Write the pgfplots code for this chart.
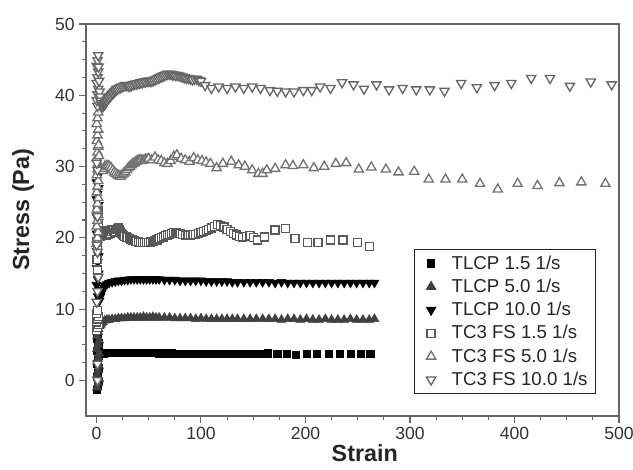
\documentclass[border=0pt]{standalone}
\usepackage{fontspec}
\setmainfont{Liberation Sans}
\usepackage{pgfplots}
\usepackage{pgfplotstable}
\pgfplotsset{compat=1.18}

% TLCP 1.5 1/s
\pgfplotstableread{
x y
0.0 -1.3
1.2 -0.7
2.2 -0.1
0.0 0.5
1.2 1.1
2.2 1.7
0.0 2.3
1.2 2.9
2.2 3.5
0.0 4.1
1.2 4.7
2.2 5.3
0.0 5.9
1.2 6.5
1.5 5.0
2 4.2
3 3.9
4 3.8
5 3.8
6 3.8
7 3.8
8 3.9
10 3.9
12 3.9
14 3.9
16 3.9
18 3.9
20 3.9
23 3.9
26 3.9
29 3.9
32 3.9
35 3.9
38 3.9
41 3.9
44 3.9
47 3.9
50 3.9
53 3.9
56 3.9
60 3.8
64 3.8
68 3.8
72 3.8
76 3.7
80 3.7
84 3.7
88 3.7
92 3.7
96 3.7
100 3.7
104 3.7
108 3.7
112 3.7
116 3.7
120 3.7
124 3.7
128 3.7
132 3.7
136 3.7
140 3.7
144 3.7
148 3.7
152 3.7
156 3.7
164 3.8
173 3.7
182 3.7
191 3.6
201 3.7
211 3.7
222 3.7
233 3.7
243 3.7
253 3.7
262 3.7
}\tlcpA

% TLCP 5.0 1/s
\pgfplotstableread{
x y
0.5 -1.0
1.6 -0.4
2.6 0.2
0.5 0.8
1.6 1.4
2.6 2.0
0.5 2.6
1.6 3.2
2.6 3.8
0.5 4.4
1.6 5.0
2.6 5.6
0.5 6.2
1.6 6.8
2 7.2
3 7.6
4 7.8
5 8.0
6 8.2
8 8.4
10 8.5
12 8.5
15 8.6
18 8.6
21 8.7
24 8.7
27 8.7
30 8.8
33 8.8
36 8.8
39 8.8
42 8.8
45 8.9
48 8.8
51 8.8
54 8.9
57 8.8
60 8.8
65 8.8
70 8.8
75 8.7
80 8.7
85 8.7
90 8.7
95 8.6
100 8.7
105 8.6
110 8.6
115 8.6
120 8.6
125 8.6
130 8.6
135 8.6
141 8.6
147 8.6
153 8.6
159 8.6
165 8.6
171 8.6
177 8.5
183 8.6
189 8.6
195 8.5
201 8.6
207 8.5
213 8.5
219 8.6
225 8.5
231 8.5
237 8.5
243 8.6
249 8.5
255 8.5
261 8.5
266 8.6
}\tlcpB

% TLCP 10.0 1/s
\pgfplotstableread{
x y
0.0 11.0
1.2 11.8
2.2 12.6
0.0 13.4
1.2 14.2
2.2 15.0
0.0 15.8
1.2 16.6
2.2 17.4
0.0 18.2
1.2 19.0
2.2 19.8
0.0 20.6
1.2 21.4
2.2 22.2
0.0 23.0
1.2 23.8
2.2 24.6
0.0 25.4
1.2 26.2
2.2 27.0
0.0 27.8
1.2 28.6
3 11.2
4 11.8
5 12.3
6 12.7
7 13.0
8 13.3
10 13.5
12 13.7
15 13.8
18 13.9
21 14.0
24 14.0
27 14.1
30 14.1
33 14.2
36 14.2
39 14.2
42 14.2
45 14.2
48 14.2
51 14.2
54 14.2
57 14.2
60 14.2
65 14.1
70 14.1
75 14.1
80 14.0
85 14.0
90 14.0
95 14.0
100 14.0
105 13.9
110 13.9
115 13.9
120 13.9
125 13.9
130 13.8
135 13.8
141 13.8
147 13.8
153 13.8
159 13.8
165 13.8
171 13.7
177 13.8
183 13.7
189 13.7
195 13.7
201 13.7
207 13.7
213 13.7
219 13.7
225 13.7
231 13.7
237 13.7
243 13.7
249 13.7
255 13.7
261 13.7
266 13.7
}\tlcpC

% TC3 FS 1.5 1/s
\pgfplotstableread{
x y
0.3 7.0
1.0 7.4
1.7 7.8
0.3 8.2
1.0 8.6
1.7 9.0
0.3 9.4
1.0 9.8
1.0 15.5
0.5 17.0
1.2 18.5
0.5 19.5
1.5 23.6
2 22.0
2.5 21.0
3 20.5
3.5 20.3
4 20.2
4.5 20.3
5 20.4
5.5 20.6
6 20.8
6.5 20.5
7 20.3
7.5 20.4
8 20.6
8.5 20.5
9 20.4
9.5 20.7
10 21.0
10.5 20.8
11 20.5
11.5 20.6
12 20.8
12.5 20.7
13 20.6
14 20.9
15 21.2
16 21.0
17 20.7
18 20.9
19 21.2
20 21.3
21 21.4
22 21.1
23 20.8
24 20.6
25 20.5
26 20.3
27 20.2
28.5 20.1
30 20.0
31.5 19.9
33 19.8
34.5 19.7
36 19.6
38 19.5
40 19.4
42 19.3
44 19.3
46 19.3
48 19.3
50 19.3
52 19.4
54 19.5
56 19.6
58 19.7
60 19.9
62 20.0
64 20.1
66 20.3
68 20.4
70 20.5
72 20.6
74 20.7
76 20.7
78 20.6
80 20.6
82.5 20.5
85 20.4
87.5 20.4
90 20.4
92.5 20.5
95 20.5
97.5 20.6
100 20.7
102.5 20.9
105 21.0
107.5 21.2
110 21.4
113 21.6
116 21.9
119 21.7
122 21.5
125 21.2
128 20.9
131 20.6
134 20.4
137 20.2
140 20.1
143.5 20.2
147 20.3
150.5 20.0
154 19.7
161 20.1
171 21.1
181 21.3
190 19.9
202 19.3
212 19.3
224 19.7
236 19.7
250 19.3
261 18.8
}\tcA

% TC3 FS 5.0 1/s
\pgfplotstableread{
x y
0.3 19.2
1.0 20.0
1.7 20.8
0.3 21.6
1.0 22.4
1.7 23.2
0.3 24.0
1.0 24.8
1.7 25.6
0.3 26.4
1.0 27.2
1.7 28.0
0.3 28.8
1.0 29.6
1.7 30.4
0.3 31.2
1.0 32.0
1.7 32.8
0.3 33.6
1.0 34.4
1.7 35.2
0.3 36.0
1.0 36.8
1.7 37.6
2 33.0
2.5 31.5
3 30.0
4 29.6
5 29.5
6 29.4
7 29.7
8 30.0
9.5 30.1
11 30.1
12.5 30.0
14 29.8
15.5 29.5
17 29.2
18.5 29.0
20 28.8
21.5 28.7
23 28.6
24.5 28.8
26 29.0
27.5 29.2
29 29.5
30.5 29.8
32 30.0
33.5 30.2
35 30.4
36.5 30.5
38 30.7
39.5 30.8
41 30.9
42.5 30.9
44 30.8
45.5 30.9
47 31.0
48.5 31.0
50 31.1
53 30.9
56 31.3
59 30.9
62 30.8
65 30.5
68 30.4
71 30.8
74 31.4
77 31.6
81 31.1
85 30.9
89 30.7
93 31.2
97 30.9
101 30.8
105 30.6
109 30.4
115 29.8
121 30.4
129 30.7
136 30.2
142 30.0
149 29.5
155 29.0
159 29.0
163 29.5
171 29.7
181 30.2
188 30.1
198 30.2
208 29.8
218 30.0
229 30.4
239 30.5
251 29.6
263 29.9
277 29.6
289 29.2
304 29.3
318 28.2
334 28.2
350 28.2
367 27.6
384 26.8
403 27.6
422 27.3
443 27.7
464 27.8
487 27.6
}\tcB

% TC3 FS 10.0 1/s
\pgfplotstableread{
x y
1.0 0.0
1.0 2.3
0.3 11.0
1.0 12.5
1.7 14.5
1.0 18.0
0.3 19.0
1.0 23.0
1.0 29.5
0.3 30.5
1.0 38.5
0.3 39.3
1.0 40.1
1.7 40.9
0.3 41.7
1.0 42.5
1.7 43.3
0.3 44.1
1.0 44.9
1.7 45.6
2 44.0
2.5 42.0
3 40.5
3.5 39.8
4 39.2
4.5 38.9
5 38.6
5.5 38.5
6 38.5
6.5 38.5
7 38.6
7.5 38.7
8 38.8
8.5 38.9
9 39.0
9.5 39.2
10 39.3
11 39.5
12 39.6
13 39.8
14 40.0
15 40.2
16 40.3
17 40.5
18 40.6
19 40.8
20 40.9
21.5 41.0
23 41.1
24.5 41.2
26 41.3
27.5 41.4
29 41.4
30.5 41.3
32 41.3
33.5 41.4
35 41.5
36.5 41.6
38 41.6
39.5 41.7
41 41.7
42.5 41.8
44 41.8
45.5 41.9
47 41.9
48.5 42.0
50 42.0
51.5 42.0
53 42.0
54.5 42.1
56 42.2
57.5 42.3
59 42.4
60.5 42.5
62 42.6
63.5 42.7
65 42.8
66.5 42.9
68 43.0
69.5 43.0
71 43.0
72.5 42.9
74 42.9
76 42.8
78 42.8
80 42.7
82 42.6
84 42.5
86 42.4
88 42.4
90 42.3
92 42.2
94 42.3
96 42.3
98 42.1
100 42.0
104 41.4
110 41.0
117 41.2
125 41.0
133 41.2
141 41.0
149 41.2
157 41.0
166 40.7
173 40.6
181 40.5
189 40.5
198 40.7
206 40.7
214 41.2
224 41.0
235 41.8
246 41.5
256 40.9
268 41.5
280 40.8
293 41.0
306 40.8
319 40.8
333 40.6
349 41.7
364 41.1
381 41.4
397 41.7
416 42.4
434 42.4
453 41.3
473 41.9
493 41.5
}\tcC

\begin{document}
\begin{tikzpicture}
\begin{axis}[
    scale only axis,
    width=399.75pt,
    height=294pt,
    xmin=-10, xmax=500,
    ymin=-5, ymax=50,
    xtick={0,100,...,500},
    ytick={0,10,...,50},
    minor x tick num=3,
    minor y tick num=3,
    tick align=outside,
    tick pos=left,
    major tick length=5pt,
    minor tick length=3pt,
    axis line style={black!60, line width=1pt},
    every tick/.style={black!60, line width=0.8pt},
    tick label style={font=\fontsize{13.2}{15}\selectfont, text=black!80},
    /pgf/number format/assume math mode=true,
    label style={font=\fontsize{17.5}{20}\selectfont\bfseries, text=black!85},
    xlabel={Strain},
    ylabel={Stress (Pa)},
    xlabel style={at={(axis description cs:0.523,-0.1166)}, anchor=base},
    ylabel style={at={(axis description cs:-0.118,0.526)}, anchor=center},
    legend cell align=left,
    legend image code/.code={\path (0pt,0pt) (21pt,0pt); \draw[#1] plot coordinates {(8pt,0pt)};},
    legend style={at={(axis description cs:0.957,0.056)}, anchor=south east,
        draw=black!85, line width=0.8pt, row sep=1.8pt, inner xsep=4pt, inner ysep=2.5pt,
        font=\fontsize{14}{16}\selectfont, text=black!85},
]
\addplot[only marks, mark=square*, mark size=2.7pt, black] table {\tlcpA};
\addplot[only marks, mark=triangle*, mark size=3.9pt, black!75] table {\tlcpB};
\addplot[only marks, mark=triangle*, mark size=3.9pt, black,
    mark options={rotate=180}] table {\tlcpC};
\addplot[only marks, mark=square*, mark size=3.0pt,
    mark options={fill=white, draw=black!65, line width=1pt}] table {\tcA};
\addplot[only marks, mark=triangle*, mark size=4pt,
    mark options={fill=white, draw=black!55, line width=1pt}] table {\tcB};
\addplot[only marks, mark=triangle*, mark size=4pt,
    mark options={rotate=180, fill=white, draw=black!60, line width=1pt}] table {\tcC};
\legend{TLCP 1.5 1/s, TLCP 5.0 1/s, TLCP 10.0 1/s, TC3 FS 1.5 1/s, TC3 FS 5.0 1/s, TC3 FS 10.0 1/s}
\end{axis}
\pgfresetboundingbox
\path (current axis.south west) ++(-64.5pt,-40.5pt) rectangle ++(474.75pt,352.5pt);
\end{tikzpicture}
\end{document}
